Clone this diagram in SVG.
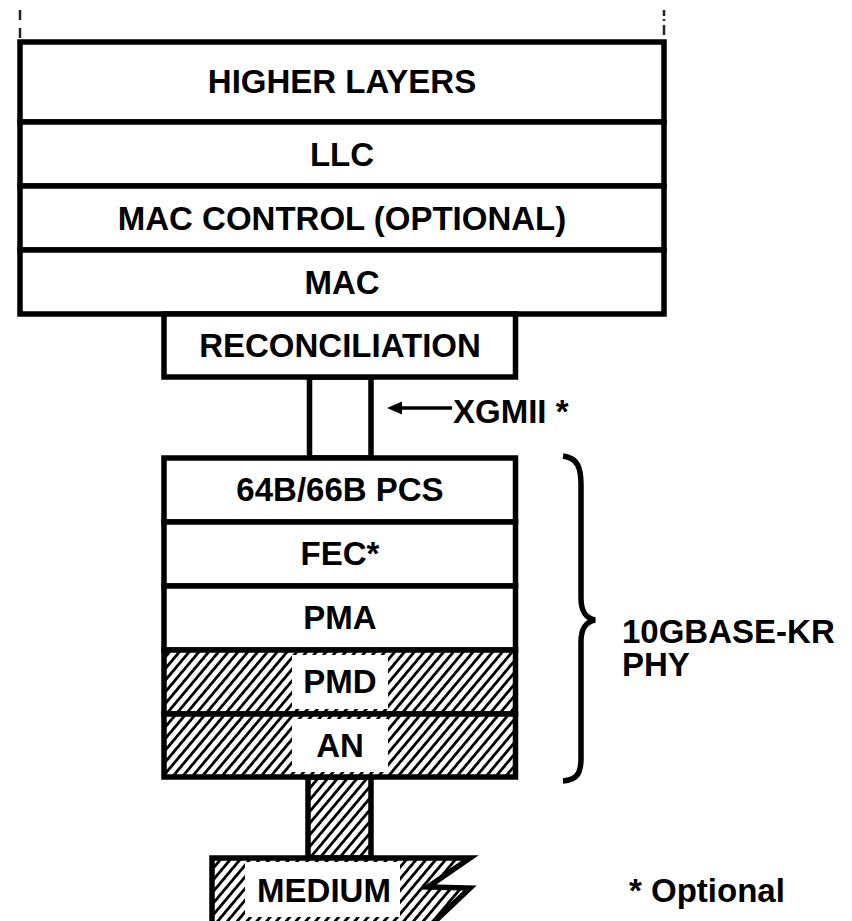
<svg xmlns="http://www.w3.org/2000/svg" width="852" height="921" viewBox="0 0 852 921">
<style>
.box{fill:#fff;stroke:#000;stroke-width:5.5}
.hbox{fill:url(#hatch);stroke:#000;stroke-width:5.5}
.wb{fill:#fff;stroke:none}
.t{font-family:"Liberation Sans",Arial,Helvetica,sans-serif;font-weight:bold;font-size:33px;fill:#000}
.c{text-anchor:middle}
.ln{stroke:#000;stroke-width:5.5;fill:none}
</style>
<defs>
<pattern id="hatch" patternUnits="userSpaceOnUse" width="7.5" height="7.5" patternTransform="rotate(40)">
<rect x="0" y="0" width="7.5" height="7.5" fill="#fff"/>
<rect x="0" y="0" width="2.8" height="7.5" fill="#000"/>
</pattern>
</defs>
<rect width="852" height="921" fill="#fff"/>

<g id="frame-marks">
<line x1="20" y1="10" x2="20" y2="40" stroke="#222" stroke-width="2.5" stroke-dasharray="10 8"/>
<line x1="664" y1="10" x2="664" y2="40" stroke="#222" stroke-width="2.5" stroke-dasharray="6 3 2 4 10 20"/>
</g>

<g id="connectors">
<rect x="309.5" y="377" width="61.5" height="81" class="box"/>
<rect x="308" y="777" width="63" height="81" class="hbox"/>
<line x1="452" y1="408" x2="398" y2="408" stroke="#000" stroke-width="3.5"/>
<path d="M387,408 L402,401.5 L402,414.5 Z" fill="#000"/>
<path d="M563,456 C578,458 581,468 581,485 L581,598 C581,612 586,618 595,620 C586,622 581,628 581,642 L581,758 C581,772 578,780 563,781" class="ln" stroke-width="5"/>
</g>

<g id="higher-layers"><rect x="20" y="42" width="644" height="80" class="box"/><text x="342" y="93" class="t c">HIGHER LAYERS</text></g>
<g id="llc"><rect x="20" y="122" width="644" height="64" class="box"/><text x="342" y="166" class="t c">LLC</text></g>
<g id="mac-control"><rect x="20" y="186" width="644" height="64" class="box"/><text x="342" y="230" class="t c">MAC CONTROL (OPTIONAL)</text></g>
<g id="mac"><rect x="20" y="250" width="644" height="64" class="box"/><text x="342" y="294" class="t c">MAC</text></g>
<g id="reconciliation"><rect x="164" y="314" width="351.5" height="63" class="box"/><text x="340" y="357" class="t c">RECONCILIATION</text></g>

<g id="pcs"><rect x="164" y="458" width="351.5" height="64" class="box"/><text x="340" y="501" class="t c">64B/66B PCS</text></g>
<g id="fec"><rect x="164" y="522" width="351.5" height="64" class="box"/><text x="340" y="565" class="t c">FEC*</text></g>
<g id="pma"><rect x="164" y="586" width="351.5" height="64" class="box"/><text x="340" y="629" class="t c">PMA</text></g>
<g id="pmd"><rect x="164" y="650" width="351.5" height="64" class="hbox"/><rect x="292" y="655" width="96" height="54" class="wb"/><text x="340" y="693" class="t c">PMD</text></g>
<g id="an"><rect x="164" y="714" width="351.5" height="63" class="hbox"/><rect x="292" y="719" width="96" height="53" class="wb"/><text x="340" y="757" class="t c">AN</text></g>

<g id="medium">
<path d="M212,858 L470,858 L428,887 L470,888 L430,926 L212,926 Z" class="hbox"/>
<rect x="245" y="862" width="155" height="55" class="wb"/>
<text x="324" y="902" class="t c">MEDIUM</text>
</g>

<g id="labels">
<text x="453" y="423" class="t">XGMII *</text>
<text class="t"><tspan x="622" y="643">10GBASE-KR</tspan><tspan x="622" y="676">PHY</tspan></text>
<text x="629" y="902" class="t">* Optional</text>
</g>
</svg>
